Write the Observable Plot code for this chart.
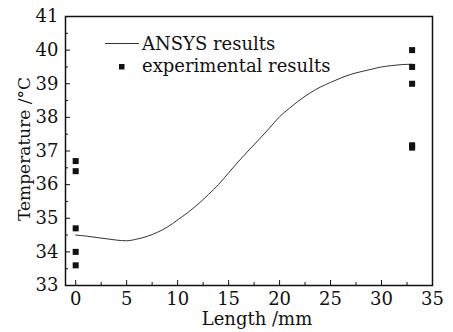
<!DOCTYPE html>
<html>
<head>
<meta charset="utf-8">
<script src="https://cdn.jsdelivr.net/npm/d3@7"></script>
<script src="https://cdn.jsdelivr.net/npm/@observablehq/plot@0.6"></script>
<style>
  html, body { margin: 0; padding: 0; background: #fff; }
  svg { display: block; }
</style>
</head>
<body>
<div id="chart"></div>
<script>
// ANSYS simulated curve
const simLength = [0,1,2,3,4,5,6,7,8,9,10,11,12,13,14,15,16,17,18,19,20,21,22,23,24,25,26,27,28,29,30,31,32,33];
const simTemp = [34.5,34.47,34.43,34.39,34.35,34.33,34.38,34.46,34.58,34.74,34.95,35.17,35.42,35.7,36.0,36.35,36.7,37.03,37.35,37.68,38.02,38.28,38.52,38.73,38.9,39.04,39.17,39.28,39.36,39.43,39.5,39.54,39.57,39.58];

// experimental measurements
const expLength = [0,0,0,0,0,33,33,33,33,33];
const expTemp = [36.7,36.4,34.7,34.0,33.6,40.0,39.5,39.0,37.17,37.1];

// axis ticks
const xTicks = [0,5,10,15,20,25,30,35];
const xMinor = [2.5,7.5,12.5,17.5,22.5,27.5,32.5];
const yTicks = [33,34,35,36,37,38,39,40,41];
const yMinor = [33.5,34.5,35.5,36.5,37.5,38.5,39.5,40.5];

const legendLabels = ["ANSYS results", "experimental results"];
const xTitle = "Length /mm";
const yTitle = "Temperature /°C";

const sim = simLength.map((x, i) => ({x, y: simTemp[i]}));
const exp = expLength.map((x, i) => ({x, y: expTemp[i]}));

const FONT = "DejaVu Serif";

function legend(index, scales, values, dims) {
  const g = d3.create("svg:g")
    .attr("font-family", FONT)
    .attr("font-size", 18)
    .attr("text-anchor", "start")
    .attr("fill", "#111");
  const x0 = dims.marginLeft, y0 = dims.marginTop;
  g.append("line")
    .attr("x1", x0 + 40).attr("x2", x0 + 74)
    .attr("y1", y0 + 27.5).attr("y2", y0 + 27.5)
    .attr("stroke", "#333").attr("stroke-width", 1);
  g.append("text").attr("x", x0 + 77).attr("y", y0 + 34).text(legendLabels[0]);
  g.append("rect")
    .attr("x", x0 + 54).attr("y", y0 + 48)
    .attr("width", 5.5).attr("height", 5.5).attr("fill", "#111");
  g.append("text").attr("x", x0 + 77).attr("y", y0 + 56).text(legendLabels[1]);
  return g.node();
}

const chart = Plot.plot({
  width: 453,
  height: 332,
  marginLeft: 65,
  marginRight: 21,
  marginTop: 16,
  marginBottom: 47,
  style: {fontFamily: FONT, fontSize: "18px", color: "#111", background: "#fff"},
  x: {domain: [-1, 35]},
  y: {domain: [33, 41]},
  marks: [
    Plot.axisX({ticks: xTicks, tickSize: -5, tickPadding: 12, tickFormat: d => String(d), label: null, stroke: "#111"}),
    Plot.axisX({ticks: xMinor, tickSize: -3, tickFormat: () => "", label: null, stroke: "#111"}),
    Plot.axisY({ticks: yTicks, tickSize: -5, tickPadding: 12, tickFormat: d => String(d), label: null, stroke: "#111"}),
    Plot.axisY({ticks: yMinor, tickSize: -3, tickFormat: () => "", label: null, stroke: "#111"}),
    Plot.frame({stroke: "#111", strokeWidth: 1.5}),
    Plot.line(sim, {x: "x", y: "y", stroke: "#333", strokeWidth: 1, curve: "monotone-x"}),
    Plot.dot(exp, {x: "x", y: "y", symbol: "square", r: 3.4, fill: "#111", stroke: "none"}),
    Plot.text([xTitle], {frameAnchor: "bottom", dx: 8, dy: 34, lineAnchor: "middle", textAnchor: "middle", fontSize: 18, fill: "#111"}),
    Plot.text([yTitle], {frameAnchor: "left", dx: -41, dy: -2, rotate: -90, textAnchor: "middle", lineAnchor: "middle", fontSize: 17, fill: "#111"}),
    legend
  ]
});
document.getElementById("chart").appendChild(chart);
</script>
</body>
</html>
